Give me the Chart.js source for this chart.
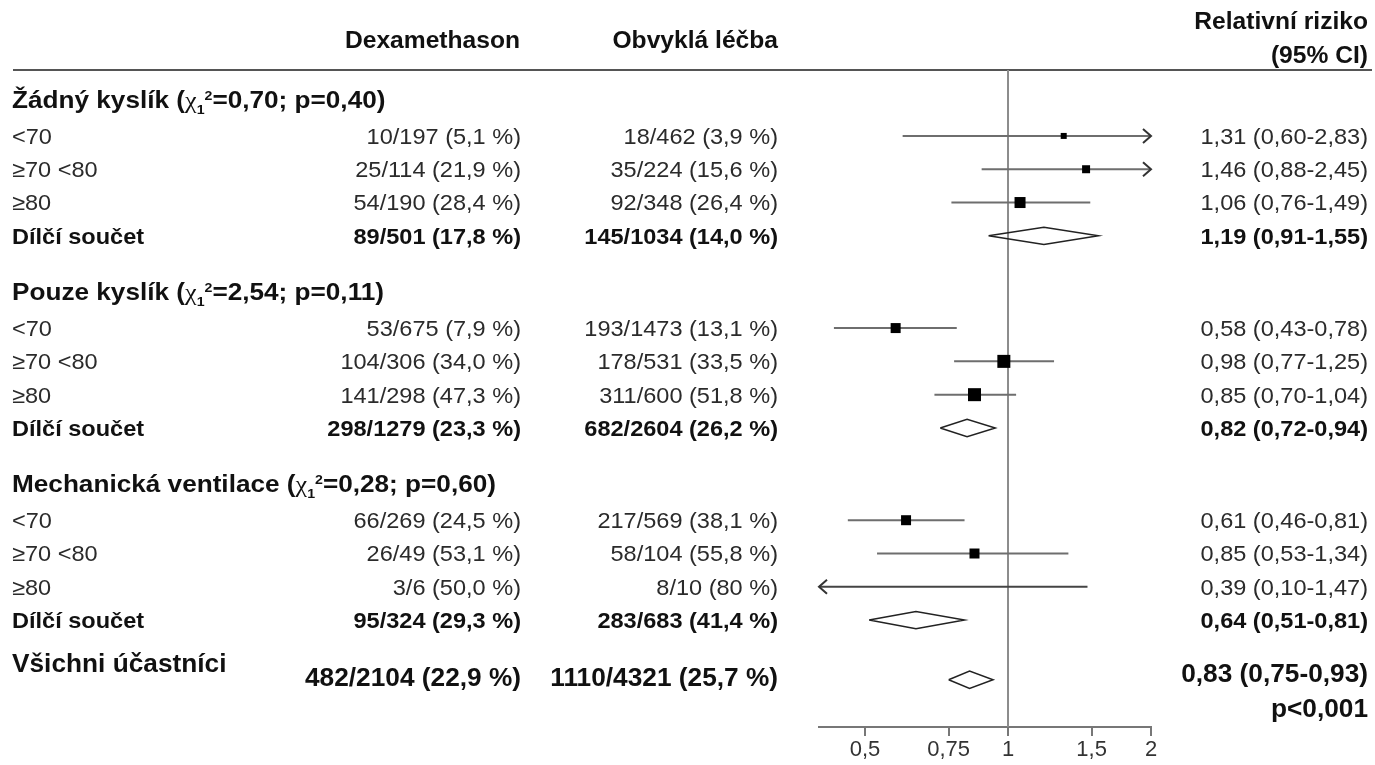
<!DOCTYPE html>
<html lang="cs">
<head>
    <meta charset="UTF-8">
    <title>Relativní riziko podle věku a podpory dýchání</title>
    <script src="https://cdn.jsdelivr.net/npm/chart.js"></script>
    <style>
        body { margin: 0; background: #fff; }
        #wrap { position: relative; width: 1375px; height: 765px; }
    </style>
</head>
<body>
    <div id="wrap"><canvas id="forest"></canvas></div>

    <script>
        // Données du graphique
        const groupNames = ['Žádný kyslík', 'Pouze kyslík', 'Mechanická ventilace'];
        const groupChi2 = ['0,70', '2,54', '0,28'];
        const groupP = ['0,40', '0,11', '0,60'];
        const rowLabels = ['<70', '≥70 <80', '≥80', 'Dílčí součet'];

        const dexText = [
            ['10/197 (5,1 %)', '25/114 (21,9 %)', '54/190 (28,4 %)', '89/501 (17,8 %)'],
            ['53/675 (7,9 %)', '104/306 (34,0 %)', '141/298 (47,3 %)', '298/1279 (23,3 %)'],
            ['66/269 (24,5 %)', '26/49 (53,1 %)', '3/6 (50,0 %)', '95/324 (29,3 %)']
        ];
        const usualText = [
            ['18/462 (3,9 %)', '35/224 (15,6 %)', '92/348 (26,4 %)', '145/1034 (14,0 %)'],
            ['193/1473 (13,1 %)', '178/531 (33,5 %)', '311/600 (51,8 %)', '682/2604 (26,2 %)'],
            ['217/569 (38,1 %)', '58/104 (55,8 %)', '8/10 (80 %)', '283/683 (41,4 %)']
        ];

        // relativní riziko, dolní a horní mez 95% CI (poslední položka = dílčí součet)
        const rr = [[1.31, 1.46, 1.06, 1.19], [0.58, 0.98, 0.85, 0.82], [0.61, 0.85, 0.39, 0.64]];
        const rrLow = [[0.60, 0.88, 0.76, 0.91], [0.43, 0.77, 0.70, 0.72], [0.46, 0.53, 0.10, 0.51]];
        const rrHigh = [[2.83, 2.45, 1.49, 1.55], [0.78, 1.25, 1.04, 0.94], [0.81, 1.34, 1.47, 0.81]];

        const totalLabel = 'Všichni účastníci';
        const totalDex = '482/2104 (22,9 %)';
        const totalUsual = '1110/4321 (25,7 %)';
        const totalRR = 0.83, totalLow = 0.75, totalHigh = 0.93;
        const totalP = 'p<0,001';

        const xTicks = [0.5, 0.75, 1, 1.5, 2];
        const xMin = 0.4, xMax = 2;

        // Mise en page (positions des lignes, tailles des carrés)
        const boxSide = [[6, 8, 11], [10, 13, 13], [10, 10, 0]];
        const rowY = (s, r) => 1.98 + s * 5.77 + r;
        const headY = s => rowY(s, 0) - 1.1;
        const totalY = 18.31;
        const diamondH = 0.26;

        const FONT = '"Liberation Sans", Arial, sans-serif';
        const fmt = v => v.toFixed(2).replace('.', ',');

        // Construction des datasets
        const boxes = [], boxRadius = [];
        const datasets = [];
        groupNames.forEach((g, s) => {
            for (let r = 0; r < 3; r++) {
                boxes.push({ x: rr[s][r], y: rowY(s, r) });
                boxRadius.push(boxSide[s][r] / Math.SQRT2);
            }
        });
        datasets.push({
            data: boxes,
            pointStyle: 'rect',
            pointRadius: boxRadius,
            pointBackgroundColor: '#000',
            pointBorderWidth: 0,
            showLine: false
        });

        // lignes des intervalles de confiance
        groupNames.forEach((g, s) => {
            for (let r = 0; r < 3; r++) {
                const y = rowY(s, r);
                datasets.push({
                    data: [{ x: Math.max(rrLow[s][r], xMin), y }, { x: Math.min(rrHigh[s][r], xMax), y }],
                    showLine: true,
                    borderColor: rrLow[s][r] < xMin ? '#444' : '#6e6e6e',
                    borderWidth: 2,
                    pointRadius: 0
                });
            }
        });

        // losanges (dílčí součty et total)
        function diamond(est, lo, hi, y) {
            return [
                { x: lo, y }, { x: est, y: y - diamondH }, { x: hi, y },
                { x: est, y: y + diamondH }, { x: lo, y }
            ];
        }
        groupNames.forEach((g, s) => {
            datasets.push({
                data: diamond(rr[s][3], rrLow[s][3], rrHigh[s][3], rowY(s, 3)),
                showLine: true, borderColor: '#222', borderWidth: 1.5, pointRadius: 0, fill: false
            });
        });
        datasets.push({
            data: diamond(totalRR, totalLow, totalHigh, totalY),
            showLine: true, borderColor: '#222', borderWidth: 1.5, pointRadius: 0, fill: false
        });

        // Fonctions de texte
        function txt(ctx, s, x, yc, o) {
            const size = o.size || 22;
            ctx.save();
            ctx.font = (o.bold ? 'bold ' : '') + size + 'px ' + FONT;
            ctx.fillStyle = o.color || (o.bold ? '#111' : '#2b2b2b');
            ctx.textAlign = o.align || 'left';
            ctx.textBaseline = 'alphabetic';
            ctx.translate(x, yc + size * 0.36);
            ctx.scale(o.sx || 1.07, 1);
            ctx.fillText(s, 0, 0);
            ctx.restore();
        }

        function heading(ctx, s, x, yc) {
            const size = 24, sx = 1.09;
            const parts = [
                { t: groupNames[s] + ' (', font: 'bold ' + size + 'px ' + FONT, dy: 0 },
                { t: 'χ', font: size + 'px "Liberation Serif", serif', dy: 0 },
                { t: '1', font: 'bold 13px ' + FONT, dy: 6 },
                { t: '2', font: 'bold 13px ' + FONT, dy: -8 },
                { t: '=' + groupChi2[s] + '; p=' + groupP[s] + ')', font: 'bold ' + size + 'px ' + FONT, dy: 0 }
            ];
            ctx.save();
            ctx.fillStyle = '#111';
            ctx.textBaseline = 'alphabetic';
            let cx = x;
            const base = yc + size * 0.36;
            parts.forEach(p => {
                ctx.font = p.font;
                ctx.save();
                ctx.translate(cx, base + p.dy);
                ctx.scale(sx, 1);
                ctx.fillText(p.t, 0, 0);
                ctx.restore();
                cx += ctx.measureText(p.t).width * sx;
            });
            ctx.restore();
        }

        const forestPlugin = {
            id: 'forestPlugin',
            beforeDatasetsDraw(chart) {
                const { ctx, chartArea, scales } = chart;
                const x1 = scales.x.getPixelForValue(1);
                ctx.save();
                ctx.lineWidth = 2;
                ctx.strokeStyle = '#555';
                ctx.beginPath();
                ctx.moveTo(13, chartArea.top);
                ctx.lineTo(1372, chartArea.top);
                ctx.stroke();
                ctx.strokeStyle = '#8c8c8c';
                ctx.beginPath();
                ctx.moveTo(x1, chartArea.top);
                ctx.lineTo(x1, chartArea.bottom);
                ctx.stroke();
                ctx.restore();
            },
            afterDatasetsDraw(chart) {
                const { ctx, scales } = chart;
                const xs = scales.x, ys = scales.y;

                // flèches pour les intervalles hors échelle
                ctx.save();
                ctx.strokeStyle = '#333';
                ctx.lineWidth = 2;
                groupNames.forEach((g, s) => {
                    for (let r = 0; r < 3; r++) {
                        const y = ys.getPixelForValue(rowY(s, r));
                        if (rrHigh[s][r] > xMax) {
                            const t = xs.getPixelForValue(xMax);
                            ctx.beginPath();
                            ctx.moveTo(t - 8, y - 7); ctx.lineTo(t, y); ctx.lineTo(t - 8, y + 7);
                            ctx.stroke();
                        }
                        if (rrLow[s][r] < xMin) {
                            const t = xs.getPixelForValue(xMin);
                            ctx.beginPath();
                            ctx.moveTo(t + 8, y - 7); ctx.lineTo(t, y); ctx.lineTo(t + 8, y + 7);
                            ctx.stroke();
                        }
                    }
                });
                ctx.restore();

                // en-têtes
                txt(ctx, 'Dexamethason', 520, 40, { bold: true, size: 23, align: 'right' });
                txt(ctx, 'Obvyklá léčba', 778, 40, { bold: true, size: 23, align: 'right' });
                txt(ctx, 'Relativní riziko', 1368, 21, { bold: true, size: 23, align: 'right' });
                txt(ctx, '(95% CI)', 1368, 55, { bold: true, size: 23, align: 'right' });

                // lignes des groupes
                groupNames.forEach((g, s) => {
                    heading(ctx, s, 12, ys.getPixelForValue(headY(s)));
                    for (let r = 0; r < 4; r++) {
                        const y = ys.getPixelForValue(rowY(s, r));
                        const b = r === 3;
                        txt(ctx, rowLabels[r], 12, y, { bold: b });
                        txt(ctx, dexText[s][r], 521, y, { bold: b, align: 'right' });
                        txt(ctx, usualText[s][r], 778, y, { bold: b, align: 'right' });
                        const lbl = fmt(rr[s][r]) + ' (' + fmt(rrLow[s][r]) + '-' + fmt(rrHigh[s][r]) + ')';
                        txt(ctx, lbl, 1368, y, { bold: b, align: 'right' });
                    }
                });

                // total
                const big = { bold: true, size: 25, sx: 1.05 };
                txt(ctx, totalLabel, 12, ys.getPixelForValue(totalY - 0.5), big);
                txt(ctx, totalDex, 521, ys.getPixelForValue(totalY - 0.08), Object.assign({ align: 'right' }, big));
                txt(ctx, totalUsual, 778, ys.getPixelForValue(totalY - 0.08), Object.assign({ align: 'right' }, big));
                const tl = fmt(totalRR) + ' (' + fmt(totalLow) + '-' + fmt(totalHigh) + ')';
                txt(ctx, tl, 1368, ys.getPixelForValue(totalY - 0.2), Object.assign({ align: 'right' }, big));
                txt(ctx, totalP, 1368, ys.getPixelForValue(totalY + 0.85), Object.assign({ align: 'right' }, big));
            }
        };

        new Chart(document.getElementById('forest'), {
            type: 'scatter',
            data: { datasets },
            options: {
                responsive: true,
                maintainAspectRatio: false,
                animation: false,
                layout: { padding: { left: 819, right: 224, top: 70, bottom: 0 } },
                plugins: { legend: { display: false }, tooltip: { enabled: false } },
                scales: {
                    x: {
                        type: 'logarithmic',
                        min: xMin,
                        max: xMax,
                        afterBuildTicks: s => { s.ticks = xTicks.map(v => ({ value: v })); },
                        afterFit: s => { s.height = 38; },
                        ticks: {
                            callback: v => String(v).replace('.', ','),
                            font: { size: 22, family: FONT },
                            color: '#333',
                            padding: 1,
                            maxRotation: 0,
                            autoSkip: false
                        },
                        grid: { drawOnChartArea: false, drawTicks: true, tickLength: 9, color: '#777', lineWidth: 2 },
                        border: { display: true, color: '#777', width: 2 }
                    },
                    y: { type: 'linear', reverse: true, min: 0, max: 19.73, display: false }
                }
            },
            plugins: [forestPlugin]
        });
    </script>
</body>
</html>
